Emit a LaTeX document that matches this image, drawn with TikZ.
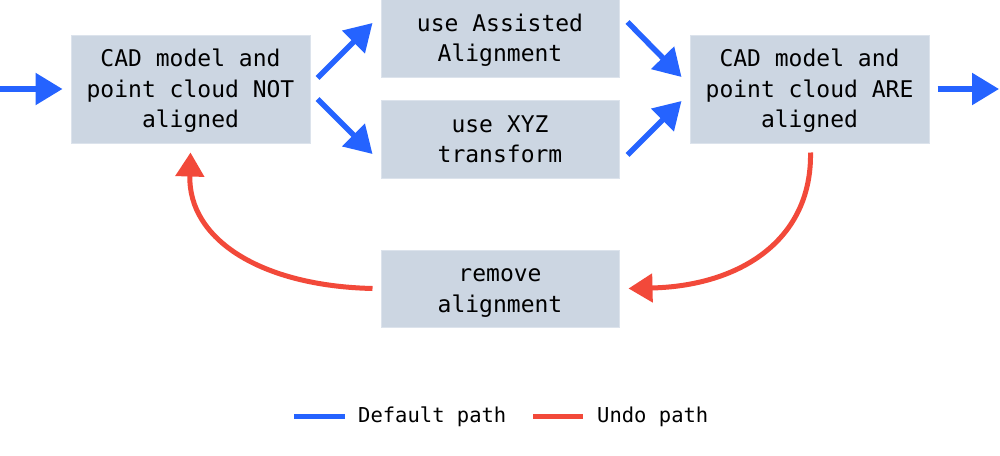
\documentclass[tikz,border=0pt]{standalone}
\usepackage{fontspec}
\setmonofont{DejaVu Sans Mono}
\usetikzlibrary{arrows.meta,calc}
\definecolor{boxfill}{HTML}{CCD6E2}
\definecolor{boxline}{HTML}{DCE3EC}
\definecolor{defblue}{HTML}{2563FF}
\definecolor{undored}{HTML}{F2493A}
\newcommand{\lnst}{\rule[-7pt]{0pt}{30.5pt}}
\tikzset{
  stepbox/.style={draw=boxline, line width=1pt, fill=boxfill, inner sep=0pt, align=center,
    font=\ttfamily\fontsize{23}{30.5}\selectfont},
  bigbox/.style={stepbox, minimum width=239pt, minimum height=108pt},
  smallbox/.style={stepbox, minimum width=238pt, minimum height=78pt},
  defarrow/.style={draw=defblue, line width=5.5pt, -{Triangle[length=27pt,width=31pt]}},
  undoarrow/.style={draw=undored, line width=5pt, -{Triangle[length=24pt,width=28pt]}},
  legtext/.style={anchor=base west, inner sep=0pt, font=\ttfamily\fontsize{20.5}{24}\selectfont},
}
\begin{document}
\begin{tikzpicture}[x=1pt,y=-1pt]
\useasboundingbox (0,0) rectangle (1000,455);
\node[bigbox] (A) at (190.5,89) {\lnst CAD model and\\\lnst point cloud NOT\\\lnst aligned};
\node[smallbox] (B) at (500,38) {\lnst use Assisted\\\lnst Alignment};
\node[smallbox] (D) at (500,139) {\lnst use XYZ\\\lnst transform};
\node[bigbox] (C) at (809.5,89) {\lnst CAD model and\\\lnst point cloud ARE\\\lnst aligned};
\node[smallbox, minimum height=77pt] (E) at (500,288.5) {\lnst remove\\\lnst alignment};
\coordinate (in) at (0,89);
\coordinate (out) at (999,89);
% default path
\draw[defarrow] (in) -- ([xshift=-8pt]A.west);
\draw[defarrow] ([shift={(7,-11)}]A.east) -- ([shift={(-8,-15)}]B.west);
\draw[defarrow] ([shift={(7,10)}]A.east) -- ([shift={(-8,15)}]D.west);
\draw[defarrow] ([shift={(8,-16)}]B.east) -- ([shift={(-8,-12)}]C.west);
\draw[defarrow] ([shift={(8,16)}]D.east) -- ([shift={(-8,12)}]C.west);
\draw[defarrow] ([xshift=8pt]C.east) -- (out);
% undo path
\draw[undoarrow] ([shift={(1,9)}]C.south) .. controls (812,240) and (740,286) .. ([xshift=9pt]E.east);
\draw[undoarrow] ([xshift=-8pt]E.west) .. controls (262,286) and (188,240) .. ([shift={(0,9)}]A.south);
% legend
\coordinate (lb1) at (294,416); \coordinate (lb2) at (345,416);
\coordinate (lr1) at (533,416); \coordinate (lr2) at (583,416);
\draw[defblue, line width=5pt] (lb1) -- (lb2);
\draw[undored, line width=5pt] (lr1) -- (lr2);
\node[legtext] (ldef) at (358,422) {Default path};
\node[legtext] (lundo) at (597,422) {Undo path};
\end{tikzpicture}
\end{document}
